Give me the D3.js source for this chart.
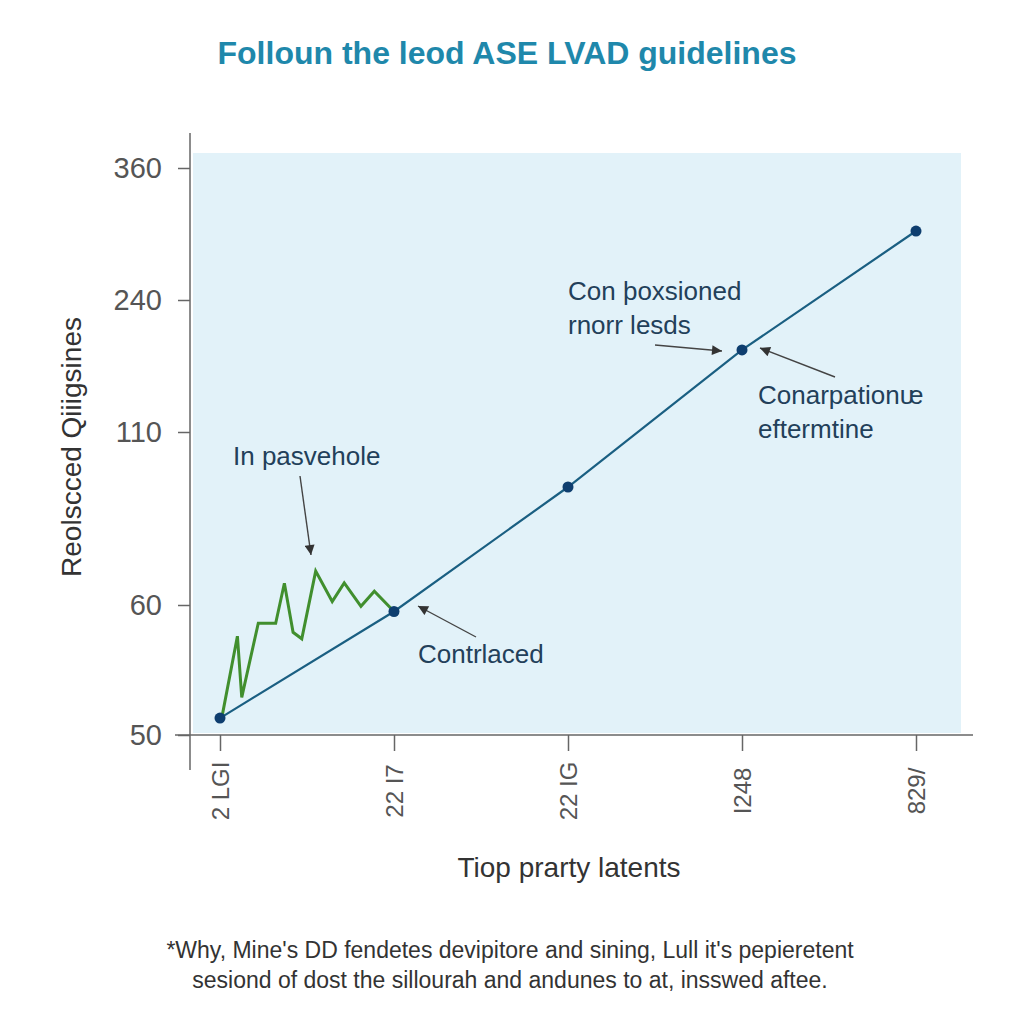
<!DOCTYPE html>
<html><head><meta charset="utf-8">
<script src="https://cdn.jsdelivr.net/npm/d3@7"></script>
<style>body{margin:0;background:#fff}svg{display:block}</style>
</head><body>
<svg id="c" width="1024" height="1024"></svg>
<script>
// ---- data ----
const xLabels = ["2 LGI", "22 I7", "22 IG", "I248", "829/"];
const yTicks = [50, 60, 110, 240, 360];
const mainX = [0, 1, 2, 3, 4];
const mainY = [51.3, 59.5, 94.1, 190.8, 302.7];
const greenX = [0.01, 0.10, 0.125, 0.22, 0.32, 0.37, 0.42, 0.47, 0.55, 0.645, 0.714, 0.81, 0.887, 1.0];
const greenY = [51.3, 57.6, 52.9, 58.6, 58.6, 66.3, 57.9, 57.4, 69.8, 61.0, 66.4, 59.9, 64.0, 59.5];
const titleText = "Folloun the leod ASE LVAD guidelines";
const yTitle = "Reolscced Qiiigsines";
const xTitle = "Tiop prarty latents";
const footnote = ["*Why, Mine's DD fendetes devipitore and sining,  Lull it's pepieretent",
                  "sesiond of dost the sillourah and andunes to at, insswed aftee."];
const annotations = [
  {lines: ["In pasvehole"], tx: 233, ty: 465, from: [300, 476], to: [311, 555]},
  {lines: ["Con þoxsioned", "rnorr lesds"], tx: 568, ty: 300, from: [655, 345], to: [722, 351]},
  {lines: ["Conarpationᵫ", "eftermtine"], tx: 758, ty: 404, from: [835, 377], to: [760, 348]},
  {lines: ["Contrlaced"], tx: 418, ty: 663, from: [476, 637], to: [418, 606]}
];

const svg = d3.select("#c");
const font = "'Liberation Sans', Arial, sans-serif";

const x = d3.scaleLinear().domain([0, 4]).range([220, 916]);
const y = d3.scaleLinear().domain(yTicks).range([735, 605, 432, 300, 168]);

// background panel
svg.append("rect").attr("x", 193).attr("y", 153).attr("width", 768).attr("height", 580).attr("fill", "#e2f2f9");

// title
svg.append("text").attr("x", 507).attr("y", 64).attr("text-anchor", "middle")
  .attr("font-family", font).attr("font-size", 32).attr("font-weight", "bold")
  .attr("fill", "#1f88ab").text(titleText);

// y axis
const yAxis = svg.append("g").attr("transform", "translate(190,0)")
  .call(d3.axisLeft(y).tickValues(yTicks).tickFormat(d3.format("d")).tickSize(12).tickPadding(16));
yAxis.select(".domain").remove();
yAxis.append("line").attr("x1", 0).attr("x2", 0).attr("y1", 133).attr("y2", 770).attr("stroke", "#666").attr("stroke-width", 1.5);
yAxis.selectAll(".tick line").attr("stroke", "#666").attr("stroke-width", 1.5);
yAxis.selectAll(".tick text").attr("font-family", font).attr("font-size", 29).attr("fill", "#555").attr("dy", "0.32em");

// x axis
const xAxis = svg.append("g").attr("transform", "translate(0,735)")
  .call(d3.axisBottom(x).tickValues(mainX).tickFormat(i => xLabels[i]).tickSize(16).tickPadding(0));
xAxis.select(".domain").remove();
xAxis.append("line").attr("x1", 175).attr("x2", 973).attr("y1", 0).attr("y2", 0).attr("stroke", "#666").attr("stroke-width", 1.5);
xAxis.selectAll(".tick line").attr("stroke", "#666").attr("stroke-width", 1.5);
xAxis.selectAll(".tick text").attr("font-family", font).attr("font-size", 24).attr("fill", "#555")
  .attr("text-anchor", "middle").attr("dy", null).attr("y", 0)
  .attr("transform", "translate(0,56) rotate(-90) translate(0,8)");

// axis titles
svg.append("text").attr("transform", "translate(81,447) rotate(-90)").attr("text-anchor", "middle")
  .attr("font-family", font).attr("font-size", 28).attr("fill", "#333").text(yTitle);
svg.append("text").attr("x", 569).attr("y", 877).attr("text-anchor", "middle")
  .attr("font-family", font).attr("font-size", 28).attr("fill", "#333").text(xTitle);

// lines
const mainData = mainX.map((v, i) => [v, mainY[i]]);
const greenData = greenX.map((v, i) => [v, greenY[i]]);
const line = d3.line().x(d => x(d[0])).y(d => y(d[1]));
svg.append("path").datum(greenData).attr("d", line).attr("fill", "none")
  .attr("stroke", "#418f2e").attr("stroke-width", 3).attr("stroke-linejoin", "miter");
svg.append("path").datum(mainData).attr("d", line).attr("fill", "none")
  .attr("stroke", "#1a5f82").attr("stroke-width", 2.2);
svg.selectAll("circle.pt").data(mainData).join("circle").attr("class", "pt")
  .attr("cx", d => x(d[0])).attr("cy", d => y(d[1])).attr("r", 5.5).attr("fill", "#0e3e6f");

// arrows
const defs = svg.append("defs");
defs.append("marker").attr("id", "ah").attr("viewBox", "0 0 10 10").attr("refX", 10).attr("refY", 5)
  .attr("markerWidth", 12).attr("markerHeight", 10).attr("markerUnits", "userSpaceOnUse").attr("orient", "auto")
  .append("path").attr("d", "M0,0 L10,5 L0,10 z").attr("fill", "#333");

annotations.forEach(a => {
  const t = svg.append("text").attr("font-family", font).attr("font-size", 26).attr("fill", "#22405a");
  a.lines.forEach((l, i) => t.append("tspan").attr("x", a.tx).attr("y", a.ty + i * 34).text(l));
  svg.append("line").attr("x1", a.from[0]).attr("y1", a.from[1]).attr("x2", a.to[0]).attr("y2", a.to[1])
    .attr("stroke", "#444").attr("stroke-width", 1.4).attr("marker-end", "url(#ah)");
});

// footnote
footnote.forEach((l, i) => svg.append("text").attr("x", 510).attr("y", 958 + i * 30).attr("text-anchor", "middle")
  .attr("font-family", font).attr("font-size", 23).attr("fill", "#333").text(l));
</script>
</body></html>
